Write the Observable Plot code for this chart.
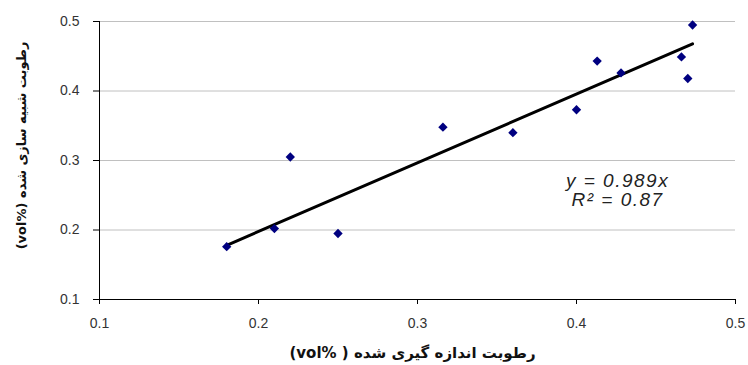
<!DOCTYPE html>
<html><head><meta charset="utf-8">
<script src="https://cdn.jsdelivr.net/npm/d3@7"></script>
<script src="https://cdn.jsdelivr.net/npm/@observablehq/plot@0.6"></script>
<style>
body{margin:0;background:#fff}
</style></head><body><div id="chart"></div>
<script>
// measured soil moisture (x) vs simulated (y), vol%
const measured  = [0.180, 0.210, 0.220, 0.250, 0.316, 0.360, 0.400, 0.413, 0.428, 0.466, 0.470, 0.473];
const simulated = [0.176, 0.202, 0.305, 0.195, 0.348, 0.340, 0.373, 0.443, 0.426, 0.449, 0.418, 0.495];
const xTicks = [0.1, 0.2, 0.3, 0.4, 0.5];
const yTicks = [0.1, 0.2, 0.3, 0.4, 0.5];
const trendSlope = 0.989;
const equationText = "y = 0.989x\nR² = 0.87";
const xTitle = "رطوبت اندازه گیری شده ( %vol)";
const yTitle = "رطوبت شبیه سازی شده (%vol)";

const points = measured.map((x, i) => ({x, y: simulated[i]}));
const trend = d3.extent(measured).map(x => ({x, y: trendSlope * x}));

const chart = Plot.plot({
  width: 748,
  height: 365,
  marginLeft: 99,
  marginRight: 13,
  marginTop: 21,
  marginBottom: 66,
  style: {fontFamily: "Liberation Sans, Arial, sans-serif", background: "#fff"},
  x: {domain: [0.1, 0.5]},
  y: {domain: [0.1, 0.5]},
  marks: [
    Plot.gridY(yTicks.slice(1), {stroke: "#c0c0c0", strokeOpacity: 1, strokeWidth: 1}),
    Plot.axisY(yTicks, {tickSize: 6, tickPadding: 14, fontSize: 14, fill: "#333", stroke: "#000", label: null, tickFormat: d3.format(".1f")}),
    Plot.axisX(xTicks, {tickSize: 5, tickPadding: 14, fontSize: 14, fill: "#333", stroke: "#000", label: null, tickFormat: d3.format(".1f")}),
    Plot.ruleX([0.1], {stroke: "#000"}),
    Plot.ruleY([0.1], {stroke: "#000"}),
    Plot.line(trend, {x: "x", y: "y", stroke: "#000", strokeWidth: 3}),
    Plot.dot(points, {x: "x", y: "y", symbol: "diamond2", r: 4.2, fill: "#000080", stroke: "none"}),
    Plot.text([equationText], {x: 0.4258, y: 0.2563, fontSize: 19, fontStyle: "italic", fill: "#222", lineHeight: 1.0, textAnchor: "middle", lineAnchor: "middle"}),
    Plot.text([yTitle], {frameAnchor: "left", dx: -78, dy: -15, rotate: -90, fontSize: 13, fontWeight: "bold", fontFamily: "DejaVu Sans", fill: "#111", textAnchor: "middle", lineAnchor: "middle"}),
    Plot.text([xTitle], {frameAnchor: "bottom", dx: -5, dy: 54, fontSize: 15, fontWeight: "bold", fontFamily: "DejaVu Sans", fill: "#111", textAnchor: "middle", lineAnchor: "middle"})
  ]
});

d3.select(chart).selectAll("text").each(function() {
  const t = this.textContent;
  if (/[\u0600-\u06FF]/.test(t)) { this.style.direction = "rtl"; this.style.unicodeBidi = "embed"; }
  if (t.includes("0.989")) { this.style.letterSpacing = "1.5px"; }
});
document.getElementById("chart").append(chart);
</script></body></html>
